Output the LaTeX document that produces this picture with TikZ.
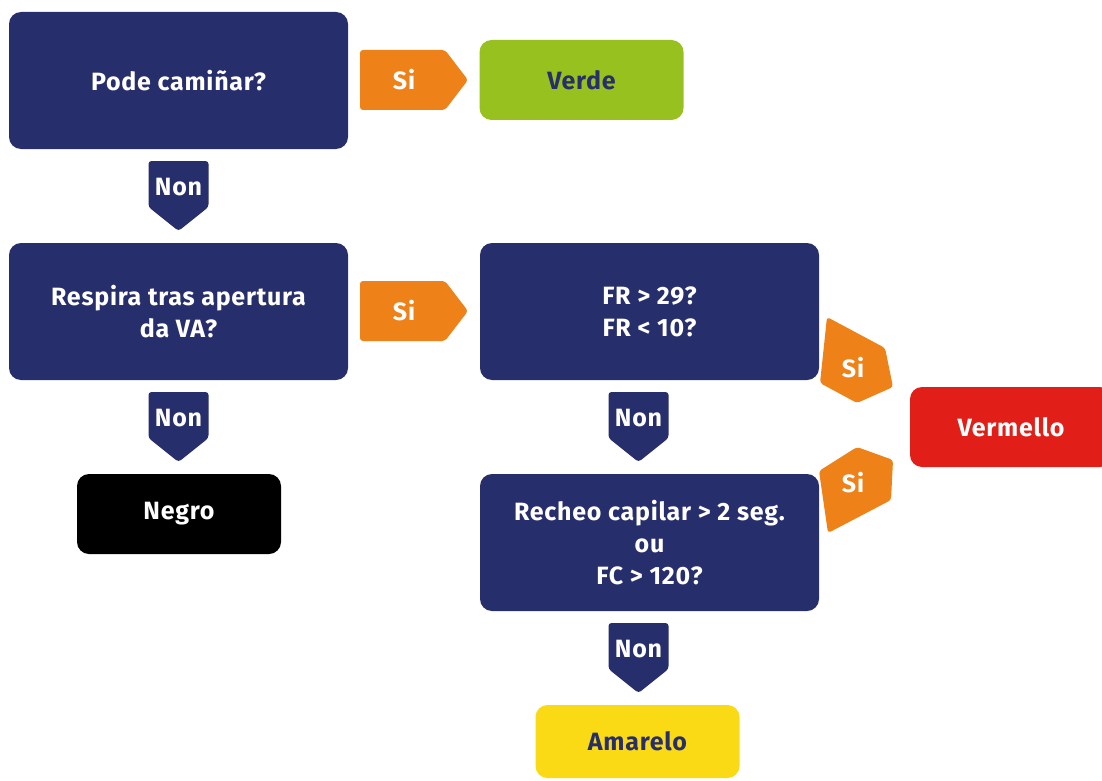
\documentclass[tikz,border=0pt]{standalone}
\usepackage{fontspec}
\setmainfont[LetterSpace=3]{Fira Sans}
\definecolor{navy}{RGB}{39,46,108}
\definecolor{sio}{RGB}{238,129,24}
\definecolor{verde}{RGB}{150,193,31}
\definecolor{verm}{RGB}{226,30,24}
\definecolor{amar}{RGB}{250,218,20}
\newcommand\fsz{\fontsize{25}{32}\selectfont\bfseries}
\begin{document}
\begin{tikzpicture}[x=1pt,y=-1pt,
 box/.style={rounded corners=12pt, inner sep=0pt, align=center, font=\fsz},
 qbox/.style={box, fill=navy, text=white, minimum width=339, minimum height=137},
 rbox/.style={box, minimum width=204, minimum height=80},
 lbl/.style={font=\fsz, text=white, inner sep=0pt},
 pics/arrR/.style={code={\fill[sio, rounded corners=3pt] (0,-30) -- (85,-30) -- (108,0) -- (85,30) -- (0,30) -- cycle; \node[lbl] (-t) at (44,0) {#1};}},
 pics/arrD/.style={code={\fill[navy, rounded corners=3pt] (-30,0) -- (30,0) -- (30,46) -- (0,70) -- (-30,46) -- cycle; \node[lbl] (-t) at (0,26) {#1};}},
]
\useasboundingbox (0,0) rectangle (1102,781);
\node[qbox] (b1) at (178.5,80.5) {Pode camiñar?};
\node[qbox] (b2) at (178.5,311.5) {Respira tras apertura\\da VA?};
\node[qbox] (b3) at (649.5,311.5) {FR > 29?\\FR < 10?};
\node[qbox] (b4) at (649.5,542.5) {Recheo capilar > 2 seg.\\ou\\FC > 120?};
\node[rbox, fill=verde, text=navy] (verde) at (581.5,80) {Verde};
\node[rbox, fill=black, text=white] (negro) at (179,514) {Negro};
\node[rbox, fill=amar, text=navy, minimum height=73] (amar) at (637.5,741.5) {Amarelo};
\node[rbox, fill=verm, text=white, minimum width=202] (verm) at (1011,427) {Vermello};
\pic (s1) at (360,80) {arrR=Si};
\pic (s2) at (360,311) {arrR=Si};
\pic (n1) at (178.5,161) {arrD=Non};
\pic (n2) at (178.5,392) {arrD=Non};
\pic (n3) at (638.5,392) {arrD=Non};
\pic (n4) at (638.5,623) {arrD=Non};
\fill[sio, rounded corners=3pt] (827,317) -- (885,348) -- (893,387) -- (857,403) -- (820,383) -- cycle;
\node[lbl] (s3) at (853,368) {Si};
\fill[sio, rounded corners=3pt] (857,447) -- (893,460) -- (891,500) -- (828,533) -- (819,471) -- cycle;
\node[lbl] (s4) at (853,483) {Si};
\end{tikzpicture}
\end{document}
